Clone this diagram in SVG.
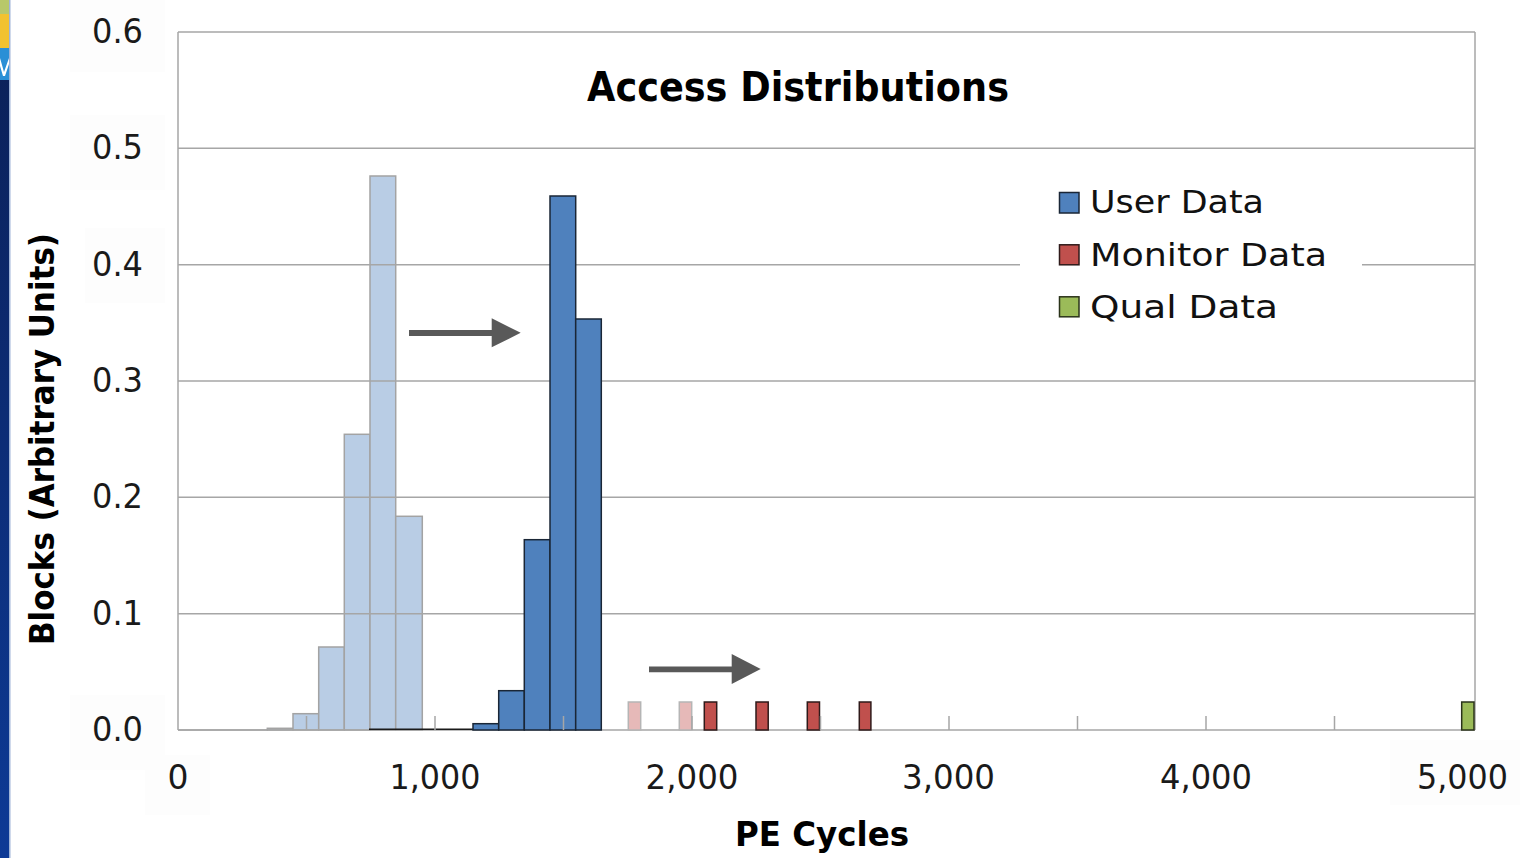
<svg xmlns="http://www.w3.org/2000/svg" width="1536" height="858" viewBox="0 0 1536 858">
<defs>
<linearGradient id="strip" x1="0" y1="0" x2="0" y2="1">
<stop offset="0" stop-color="#0b1f55"/>
<stop offset="1" stop-color="#0d3a96"/>
</linearGradient>
<style>
.grid{stroke:#a6a6a6;stroke-width:1.5;fill:none}
.tick{stroke:#a6a6a6;stroke-width:1.5}
.lb{fill:#b9cde5;stroke:#a3a3a3;stroke-width:1.5}
.ub{fill:#4f81bd;stroke:#1a2636;stroke-width:1.5}
.mb{fill:#c0504d;stroke:#2e1a1a;stroke-width:1.5}
.pb{fill:#e6b9b8;stroke:#b5b5b5;stroke-width:1.5}
.qb{fill:#9bbb59;stroke:#2a331a;stroke-width:1.5}
.num{font-family:"DejaVu Sans","Liberation Sans",sans-serif;font-size:33px;fill:#1a1a1a}
.leg{font-family:"DejaVu Sans","Liberation Sans",sans-serif;font-size:32px;fill:#111}
.bold{font-family:"DejaVu Sans","Liberation Sans",sans-serif;font-weight:bold;fill:#000}
.arrow{fill:#595959}
.lab{fill:#fdfdfd}
</style>
</defs>
<rect width="1536" height="858" fill="#ffffff"/>
<g id="left-strip">
<rect x="0" y="0" width="9" height="858" fill="url(#strip)"/>
<rect x="9" y="0" width="1.5" height="858" fill="#9fb4d8"/>
<rect x="0" y="0" width="9" height="14" fill="#b8c86a"/>
<rect x="0" y="14" width="9" height="34" fill="#f2c230"/>
<rect x="0" y="48" width="9" height="32" fill="#2a8fd6"/>
<path d="M0 58 L4 72 L9 58 L9 64 L5 76 L3 76 L0 66 Z" fill="#ffffff"/>
</g>
<g id="label-backgrounds">
<rect class="lab" x="70" y="0" width="95" height="72"/>
<rect class="lab" x="70" y="115" width="95" height="75"/>
<rect class="lab" x="85" y="228" width="80" height="75"/>
<rect class="lab" x="70" y="695" width="95" height="75"/>
<rect class="lab" x="145" y="755" width="65" height="60"/>
<rect class="lab" x="1390" y="740" width="130" height="65"/>
</g>
<g id="light-bars">
<line class="grid" x1="178" y1="730" x2="268" y2="730"/>
<rect class="lb" x="267.3" y="728.3" width="25.7" height="1.7"/>
<rect class="lb" x="293" y="713.7" width="25.7" height="16.3"/>
<rect class="lb" x="318.7" y="647" width="25.6" height="83"/>
<rect class="lb" x="344.3" y="434.3" width="25.7" height="295.7"/>
<rect class="lb" x="370" y="176" width="25.7" height="554"/>
<rect class="lb" x="395.7" y="516.3" width="26.6" height="213.7"/>
</g>
<g id="grid">
<line class="grid" x1="178" y1="32" x2="1475" y2="32"/>
<line class="grid" x1="178" y1="148.3" x2="1475" y2="148.3"/>
<line class="grid" x1="178" y1="264.7" x2="1020" y2="264.7"/>
<line class="grid" x1="1362" y1="264.7" x2="1475" y2="264.7"/>
<line class="grid" x1="178" y1="381" x2="1475" y2="381"/>
<line class="grid" x1="178" y1="497.3" x2="1475" y2="497.3"/>
<line class="grid" x1="178" y1="613.7" x2="1475" y2="613.7"/>
<line class="grid" x1="178" y1="730" x2="1475" y2="730"/>
<line class="grid" x1="178" y1="32" x2="178" y2="730"/>
<line class="grid" x1="1475" y1="32" x2="1475" y2="730"/>
</g>
<g id="user-data">
<line x1="369" y1="729.3" x2="474" y2="729.3" stroke="#1a1a1a" stroke-width="1.5"/>
<rect class="ub" x="473" y="723.7" width="25.7" height="6.3"/>
<rect class="ub" x="498.7" y="690.7" width="25.6" height="39.3"/>
<rect class="ub" x="524.3" y="539.7" width="25.7" height="190.3"/>
<rect class="ub" x="550" y="196" width="25.7" height="534"/>
<rect class="ub" x="575.7" y="319" width="25.6" height="411"/>
</g>
<g id="monitor-data">
<rect class="pb" x="628.3" y="702" width="12.4" height="28"/>
<rect class="pb" x="679.3" y="702" width="12.4" height="28"/>
<rect class="mb" x="704.3" y="702" width="12.4" height="28"/>
<rect class="mb" x="756" y="702" width="12.2" height="28"/>
<rect class="mb" x="807.3" y="702" width="12.2" height="28"/>
<rect class="mb" x="859.3" y="702" width="11.6" height="28"/>
</g>
<g id="qual-data">
<rect class="qb" x="1461.7" y="702" width="12.3" height="28"/>
</g>
<g id="ticks">
<line class="tick" x1="306.5" y1="716" x2="306.5" y2="730"/>
<line class="tick" x1="435" y1="716" x2="435" y2="730"/>
<line class="tick" x1="563.5" y1="716" x2="563.5" y2="730"/>
<line class="tick" x1="692" y1="716" x2="692" y2="730"/>
<line class="tick" x1="820.5" y1="716" x2="820.5" y2="730"/>
<line class="tick" x1="949" y1="716" x2="949" y2="730"/>
<line class="tick" x1="1077.5" y1="716" x2="1077.5" y2="730"/>
<line class="tick" x1="1206" y1="716" x2="1206" y2="730"/>
<line class="tick" x1="1334.5" y1="716" x2="1334.5" y2="730"/>
</g>
<g id="connectors">
<path class="arrow" d="M409 330 L491.7 330 L491.7 318.3 L520.7 332.8 L491.7 347.3 L491.7 336 L409 336 Z"/>
<path class="arrow" d="M649 666.5 L731.7 666.5 L731.7 654 L760.7 669 L731.7 684 L731.7 672.3 L649 672.3 Z"/>
</g>
<g id="title">
<text class="bold" x="587" y="101" font-size="40" textLength="422" lengthAdjust="spacingAndGlyphs">Access Distributions</text>
</g>
<g id="y-labels">
<text class="num" x="143" y="43" text-anchor="end" textLength="51" lengthAdjust="spacingAndGlyphs">0.6</text>
<text class="num" x="143" y="159" text-anchor="end" textLength="51" lengthAdjust="spacingAndGlyphs">0.5</text>
<text class="num" x="143" y="275.5" text-anchor="end" textLength="51" lengthAdjust="spacingAndGlyphs">0.4</text>
<text class="num" x="143" y="391.5" text-anchor="end" textLength="51" lengthAdjust="spacingAndGlyphs">0.3</text>
<text class="num" x="143" y="508" text-anchor="end" textLength="51" lengthAdjust="spacingAndGlyphs">0.2</text>
<text class="num" x="143" y="624.5" text-anchor="end" textLength="51" lengthAdjust="spacingAndGlyphs">0.1</text>
<text class="num" x="143" y="741" text-anchor="end" textLength="51" lengthAdjust="spacingAndGlyphs">0.0</text>
</g>
<g id="x-labels">
<text class="num" x="178" y="789" text-anchor="middle">0</text>
<text class="num" x="435" y="789" text-anchor="middle" textLength="91" lengthAdjust="spacingAndGlyphs">1,000</text>
<text class="num" x="692" y="789" text-anchor="middle" textLength="93" lengthAdjust="spacingAndGlyphs">2,000</text>
<text class="num" x="948.5" y="789" text-anchor="middle" textLength="93" lengthAdjust="spacingAndGlyphs">3,000</text>
<text class="num" x="1206" y="789" text-anchor="middle" textLength="92" lengthAdjust="spacingAndGlyphs">4,000</text>
<text class="num" x="1462.5" y="789" text-anchor="middle" textLength="91" lengthAdjust="spacingAndGlyphs">5,000</text>
</g>
<g id="x-title">
<text class="bold" x="735" y="846" font-size="33" textLength="174" lengthAdjust="spacingAndGlyphs">PE Cycles</text>
</g>
<g id="y-title">
<text class="bold" transform="translate(54 645) rotate(-90)" x="0" y="0" font-size="34" textLength="412" lengthAdjust="spacingAndGlyphs">Blocks (Arbitrary Units)</text>
</g>
<g id="legend">
<rect x="1059.5" y="192.5" width="19.5" height="20.5" class="ub"/>
<text class="leg" x="1090" y="213" textLength="174" lengthAdjust="spacingAndGlyphs">User Data</text>
<rect x="1059.5" y="244.8" width="19.5" height="20" class="mb"/>
<text class="leg" x="1090" y="266" textLength="237" lengthAdjust="spacingAndGlyphs">Monitor Data</text>
<rect x="1059.5" y="296.8" width="19.5" height="20" class="qb"/>
<text class="leg" x="1090" y="318" textLength="188" lengthAdjust="spacingAndGlyphs">Qual Data</text>
</g>
</svg>
